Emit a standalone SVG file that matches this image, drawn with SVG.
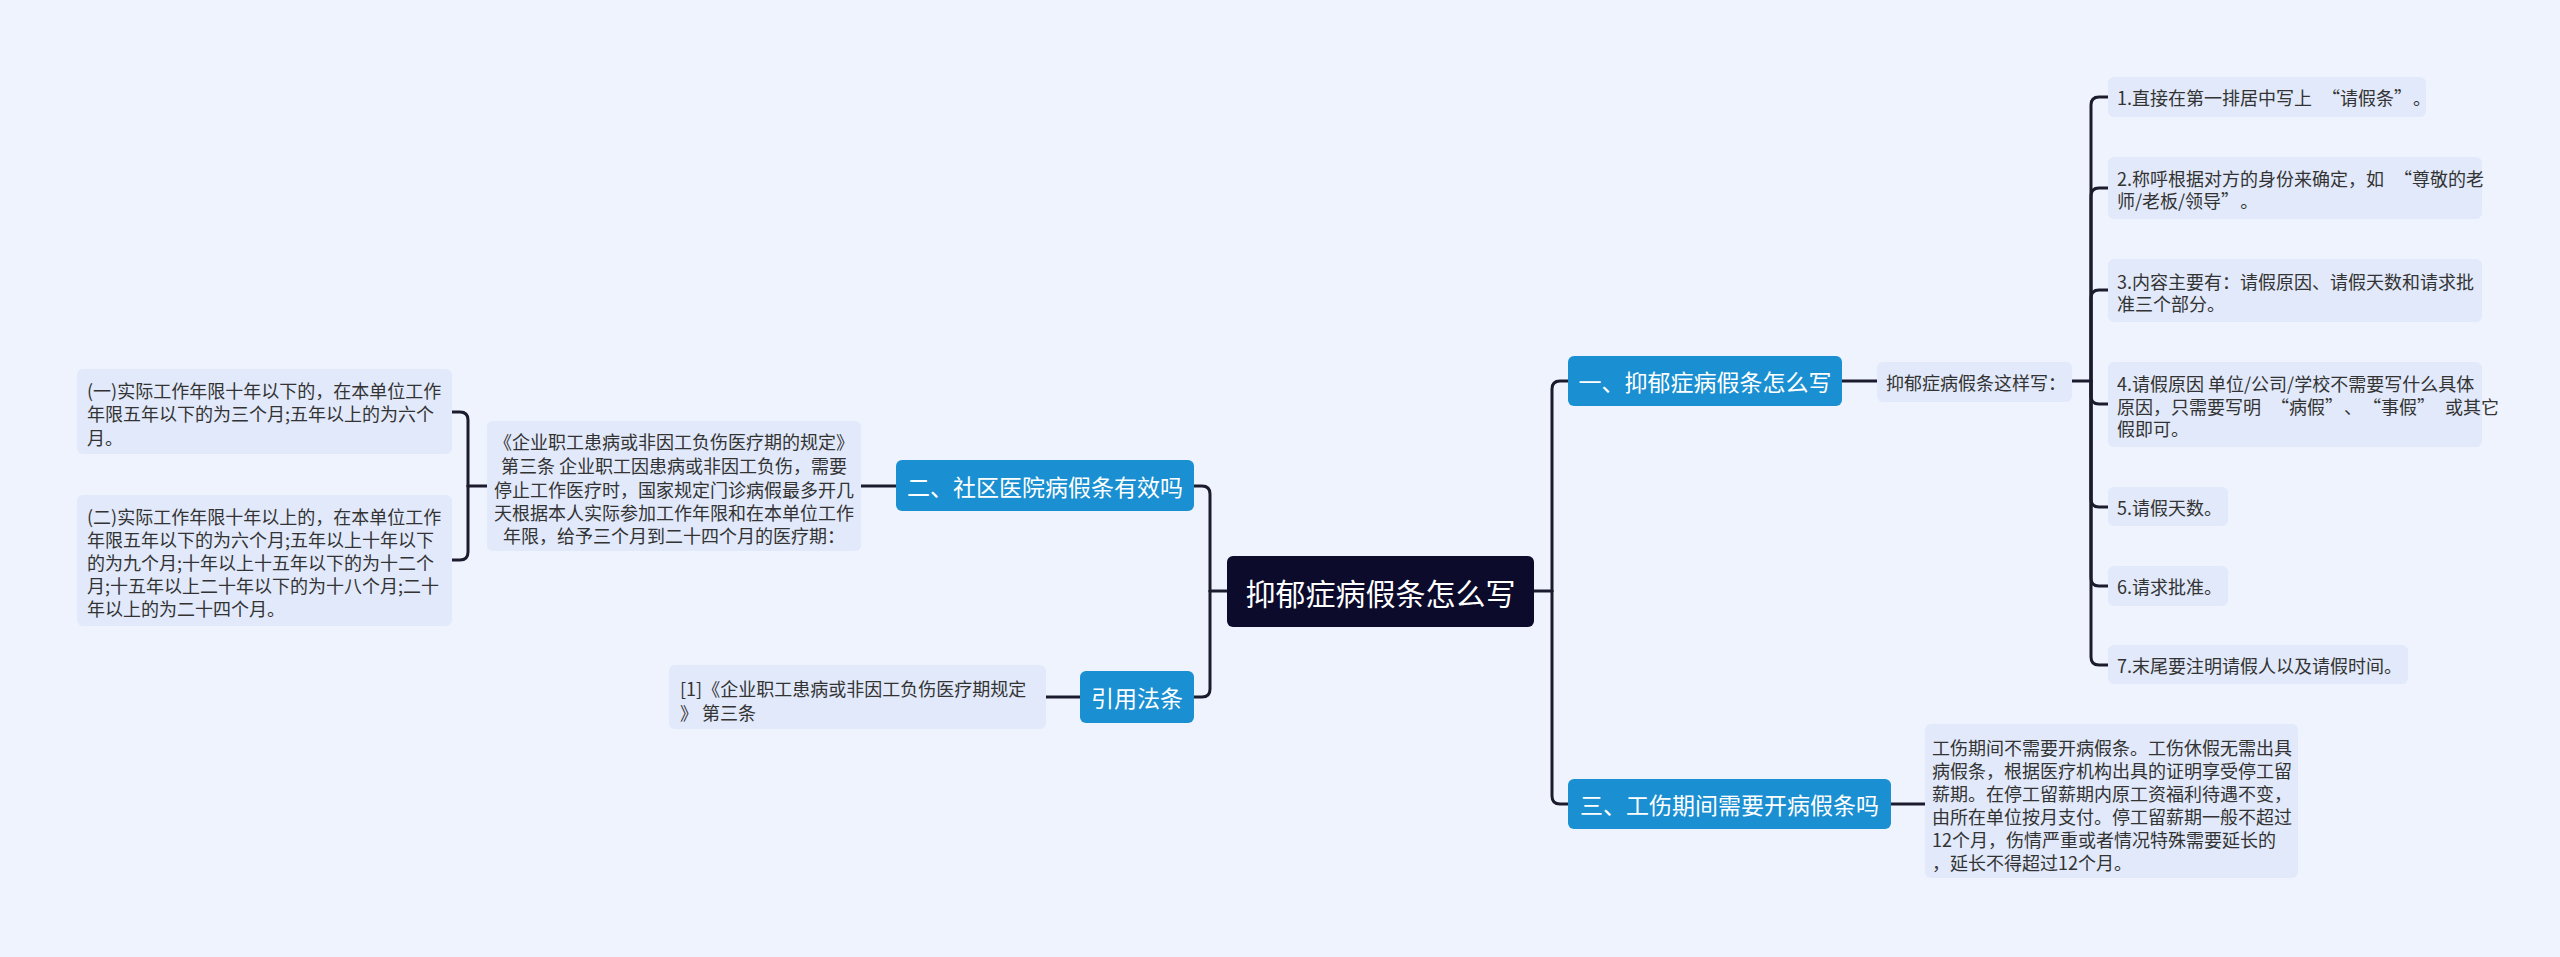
<svg xmlns="http://www.w3.org/2000/svg" width="2560" height="957" viewBox="0 0 2560 957">
<style>
.bg{fill:#eef3fe}
.ln{fill:none;stroke:#1c1b2e;stroke-width:3;stroke-linecap:round}
.root{fill:#0d0b2c}
.br{fill:#1a8fd1}
.nd{fill:#e1e9fa}
.t{font-family:"Noto Sans CJK SC","Noto Sans",sans-serif;dominant-baseline:central}
.tw{fill:#ffffff}
.tn{fill:#333333;font-size:18px}
</style>
<rect class="bg" x="0" y="0" width="2560" height="957"/>
<g id="connectors">
<path class="ln" d="M1534 591 H1552"/>
<path class="ln" d="M1552 591 V389 Q1552 381 1560 381 H1568"/>
<path class="ln" d="M1552 591 V796 Q1552 804 1560 804 H1568"/>
<path class="ln" d="M1842 381 H1877"/>
<path class="ln" d="M2072 381 H2091"/>
<path class="ln" d="M2091 381 V105 Q2091 97 2099 97 H2108"/>
<path class="ln" d="M2091 381 V196 Q2091 188 2099 188 H2108"/>
<path class="ln" d="M2091 381 V298 Q2091 290 2099 290 H2108"/>
<path class="ln" d="M2091 381 V396 Q2091 404 2099 404 H2108"/>
<path class="ln" d="M2091 381 V499 Q2091 507 2099 507 H2108"/>
<path class="ln" d="M2091 381 V578 Q2091 586 2099 586 H2108"/>
<path class="ln" d="M2091 381 V657 Q2091 665 2099 665 H2108"/>
<path class="ln" d="M1891 804 H1925"/>
<path class="ln" d="M1227 591 H1210"/>
<path class="ln" d="M1210 591 V494 Q1210 486 1202 486 H1194"/>
<path class="ln" d="M1210 591 V689 Q1210 697 1202 697 H1194"/>
<path class="ln" d="M896 486 H861"/>
<path class="ln" d="M487 486 H468"/>
<path class="ln" d="M468 486 V420 Q468 412 460 412 H452"/>
<path class="ln" d="M468 486 V552 Q468 560 460 560 H452"/>
<path class="ln" d="M1080 697 H1046"/>
</g>
<g id="root">
<rect class="root" x="1227" y="556" width="307" height="71" rx="6"/>
<text class="t tw" x="1380.5" y="592" font-size="30" text-anchor="middle">抑郁症病假条怎么写</text>
</g>
<g id="branch1">
<rect class="br" x="1568" y="356" width="274" height="50" rx="6"/>
<text class="t tw" x="1705" y="381" font-size="23" text-anchor="middle">一、抑郁症病假条怎么写</text>
</g>
<g id="sub1">
<rect class="nd" x="1877" y="362" width="195" height="40" rx="6"/>
<text class="t tn" x="1886" y="382">抑郁症病假条这样写：</text>
</g>
<g id="item1">
<rect class="nd" x="2108" y="77" width="318" height="40" rx="6"/>
<text class="t tn" x="2117" y="97">1.直接在第一排居中写上<tspan dx="10">“</tspan>请假条”<tspan dx="10">。</tspan></text>
</g>
<g id="item2">
<rect class="nd" x="2108" y="157" width="374" height="62" rx="6"/>
<text class="t tn" x="2117" y="178">2.称呼根据对方的身份来确定，如<tspan dx="10">“</tspan>尊敬的老</text>
<text class="t tn" x="2117" y="200">师/老板/领导”<tspan dx="10">。</tspan></text>
</g>
<g id="item3">
<rect class="nd" x="2108" y="259" width="374" height="63" rx="6"/>
<text class="t tn" x="2117" y="281">3.内容主要有：请假原因、请假天数和请求批</text>
<text class="t tn" x="2117" y="303">准三个部分。</text>
</g>
<g id="item4">
<rect class="nd" x="2108" y="362" width="374" height="85" rx="6"/>
<text class="t tn" x="2117" y="383">4.请假原因 单位/公司/学校不需要写什么具体</text>
<text class="t tn" x="2117" y="406">原因，只需要写明<tspan dx="10">“</tspan>病假”<tspan dx="10">、</tspan><tspan dx="10">“</tspan>事假”<tspan dx="10">或</tspan>其它</text>
<text class="t tn" x="2117" y="428">假即可。</text>
</g>
<g id="item5">
<rect class="nd" x="2108" y="487" width="120" height="39" rx="6"/>
<text class="t tn" x="2117" y="507">5.请假天数。</text>
</g>
<g id="item6">
<rect class="nd" x="2108" y="566" width="120" height="40" rx="6"/>
<text class="t tn" x="2117" y="586">6.请求批准。</text>
</g>
<g id="item7">
<rect class="nd" x="2108" y="645" width="300" height="39" rx="6"/>
<text class="t tn" x="2117" y="665">7.末尾要注明请假人以及请假时间。</text>
</g>
<g id="branch3">
<rect class="br" x="1568" y="779" width="323" height="50" rx="6"/>
<text class="t tw" x="1729.5" y="804" font-size="23" text-anchor="middle">三、工伤期间需要开病假条吗</text>
</g>
<g id="branch3text">
<rect class="nd" x="1925" y="724" width="373" height="154" rx="6"/>
<text class="t tn" x="1932" y="747">工伤期间不需要开病假条。工伤休假无需出具</text>
<text class="t tn" x="1932" y="770">病假条，根据医疗机构出具的证明享受停工留</text>
<text class="t tn" x="1932" y="793">薪期。在停工留薪期内原工资福利待遇不变，</text>
<text class="t tn" x="1932" y="816">由所在单位按月支付。停工留薪期一般不超过</text>
<text class="t tn" x="1932" y="839">12个月，伤情严重或者情况特殊需要延长的</text>
<text class="t tn" x="1932" y="862">，延长不得超过12个月。</text>
</g>
<g id="branch2">
<rect class="br" x="896" y="460" width="298" height="51" rx="6"/>
<text class="t tw" x="1045" y="486" font-size="23" text-anchor="middle">二、社区医院病假条有效吗</text>
</g>
<g id="branch2text">
<rect class="nd" x="487" y="421" width="374" height="130" rx="6"/>
<text class="t tn" x="674" y="441" text-anchor="middle">《企业职工患病或非因工负伤医疗期的规定》</text>
<text class="t tn" x="674" y="465" text-anchor="middle">第三条 企业职工因患病或非因工负伤，需要</text>
<text class="t tn" x="674" y="489" text-anchor="middle">停止工作医疗时，国家规定门诊病假最多开几</text>
<text class="t tn" x="674" y="512" text-anchor="middle">天根据本人实际参加工作年限和在本单位工作</text>
<text class="t tn" x="674" y="535" text-anchor="middle">年限，给予三个月到二十四个月的医疗期：</text>
</g>
<g id="left1">
<rect class="nd" x="77" y="369" width="375" height="85" rx="6"/>
<text class="t tn" x="87" y="390">(一)实际工作年限十年以下的，在本单位工作</text>
<text class="t tn" x="87" y="413">年限五年以下的为三个月;五年以上的为六个</text>
<text class="t tn" x="87" y="437">月。</text>
</g>
<g id="left2">
<rect class="nd" x="77" y="495" width="375" height="131" rx="6"/>
<text class="t tn" x="87" y="516">(二)实际工作年限十年以上的，在本单位工作</text>
<text class="t tn" x="87" y="539">年限五年以下的为六个月;五年以上十年以下</text>
<text class="t tn" x="87" y="562">的为九个月;十年以上十五年以下的为十二个</text>
<text class="t tn" x="87" y="585">月;十五年以上二十年以下的为十八个月;二十</text>
<text class="t tn" x="87" y="608">年以上的为二十四个月。</text>
</g>
<g id="cite">
<rect class="br" x="1080" y="671" width="114" height="52" rx="6"/>
<text class="t tw" x="1137" y="697" font-size="23" text-anchor="middle">引用法条</text>
</g>
<g id="citetext">
<rect class="nd" x="669" y="665" width="377" height="64" rx="6"/>
<text class="t tn" x="680" y="688">[1]《企业职工患病或非因工负伤医疗期规定</text>
<text class="t tn" x="680" y="712">》 第三条</text>
</g>
</svg>
